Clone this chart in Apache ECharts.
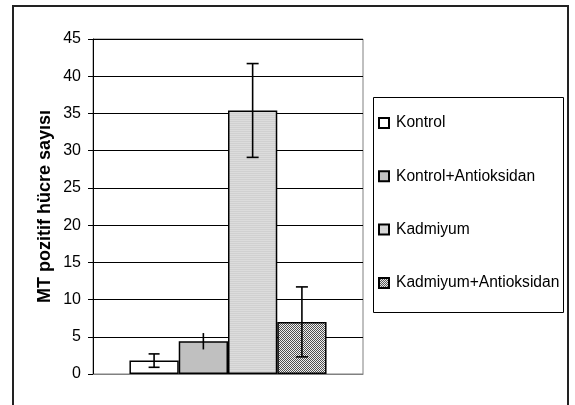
<!DOCTYPE html>
<html>
<head>
<meta charset="utf-8">
<script src="https://cdn.jsdelivr.net/npm/echarts@6/dist/echarts.min.js"></script>
<style>html,body{margin:0;padding:0;background:#fff}#c{width:575px;height:405px}</style>
</head>
<body>
<div id="c"></div>
<script>
const categories = [''];
const seriesNames = ['Kontrol', 'Kontrol+Antioksidan', 'Kadmiyum', 'Kadmiyum+Antioksidan'];
const means = [1.8, 4.4, 35.4, 7.0];
const errors = [0.9, 1.1, 6.3, 4.7];
const yMin = 0, yMax = 45, yStep = 5;
const yTitle = 'MT pozitif hücre sayısı';

function makePattern(w, h, draw) {
  const c = document.createElement('canvas');
  c.width = w; c.height = h;
  const ctx = c.getContext('2d');
  draw(ctx);
  return { image: c, repeat: 'repeat' };
}
const stripePattern = makePattern(2, 2, ctx => {
  ctx.fillStyle = '#dcdcdc'; ctx.fillRect(0, 0, 2, 2);
  ctx.fillStyle = '#d0d0d0'; ctx.fillRect(0, 1, 2, 1);
});
const checkPattern = makePattern(2, 2, ctx => {
  ctx.fillStyle = '#f0f0f0'; ctx.fillRect(0, 0, 2, 2);
  ctx.fillStyle = '#505050'; ctx.fillRect(0, 0, 1, 1); ctx.fillRect(1, 1, 1, 1);
});
const fills = ['#ffffff', '#c0c0c0', stripePattern, checkPattern];
const capW = [11, 0, 12, 12];
const gapRatio = 0.27;

const chart = echarts.init(document.getElementById('c'), null, { renderer: 'canvas' });
const font = 'Liberation Sans, Arial, sans-serif';

const barSeries = seriesNames.map((n, i) => ({
  name: n,
  type: 'bar',
  data: [means[i]],
  barGap: '0%',
  barCategoryGap: (gapRatio * 100) + '%',
  itemStyle: { color: fills[i], borderColor: '#000', borderWidth: 1.5 },
  emphasis: { disabled: true },
  z: 3
}));

const errSeries = {
  type: 'custom',
  z: 10,
  silent: true,
  data: means.map((m, i) => [0, m - errors[i], m + errors[i]]),
  renderItem: function (params, api) {
    const i = params.dataIndex;
    const x0 = api.coord([0, 0])[0];
    const catW = api.size([1, 0])[0];
    const barW = catW * (1 - gapRatio) / seriesNames.length;
    const cx = x0 + (i - (seriesNames.length - 1) / 2) * barW;
    const yLo = api.coord([0, api.value(1)])[1];
    const yHi = api.coord([0, api.value(2)])[1];
    const st = { stroke: '#000', lineWidth: 1.6 };
    const half = capW[i] / 2;
    const children = [
      { type: 'line', shape: { x1: cx, y1: yLo, x2: cx, y2: yHi }, style: st }
    ];
    if (half > 0) {
      children.push({ type: 'line', shape: { x1: cx - half, y1: yHi, x2: cx + half, y2: yHi }, style: st });
      children.push({ type: 'line', shape: { x1: cx - half, y1: yLo, x2: cx + half, y2: yLo }, style: st });
    }
    return { type: 'group', children: children };
  }
};

chart.setOption({
  backgroundColor: '#fff',
  animation: false,
  textStyle: { fontFamily: font },
  graphic: [
    { type: 'rect', shape: { x: 13, y: 6, width: 555, height: 420 }, style: { fill: 'none', stroke: '#222', lineWidth: 2 }, z: 100, silent: true },
    { type: 'rect', shape: { x: 373.5, y: 97.5, width: 190, height: 215 }, style: { fill: 'none', stroke: '#000', lineWidth: 1 }, z: 100, silent: true }
  ],
  grid: { left: 93, right: 212, top: 39, bottom: 31, show: true, borderColor: '#808080', borderWidth: 1, containLabel: false },
  legend: {
    orient: 'vertical',
    left: 373,
    top: 109.5,
    itemWidth: 10,
    itemHeight: 10,
    itemGap: 36.3,
    icon: 'rect',
    data: seriesNames,
    textStyle: { fontFamily: font, fontSize: 15.6, lineHeight: 17, color: '#000', padding: [0, 0, 0, 2] },
    selectedMode: false
  },
  xAxis: {
    type: 'category',
    data: categories,
    axisLine: { show: true, lineStyle: { color: '#808080', width: 1 } },
    axisTick: { show: false },
    axisLabel: { show: false },
    splitLine: { show: false }
  },
  yAxis: {
    type: 'value',
    min: yMin, max: yMax, interval: yStep,
    name: yTitle,
    nameLocation: 'middle',
    nameGap: 39,
    nameTextStyle: { fontFamily: font, fontSize: 18, fontWeight: 'bold', color: '#000' },
    axisLine: { show: true, lineStyle: { color: '#000', width: 1 } },
    axisTick: { show: true, length: 5, lineStyle: { color: '#000' } },
    axisLabel: { margin: 12, fontSize: 16, color: '#000', fontFamily: font },
    splitLine: { show: true, lineStyle: { color: '#000', width: 1 } }
  },
  series: barSeries.concat([errSeries])
});
</script>
</body>
</html>
